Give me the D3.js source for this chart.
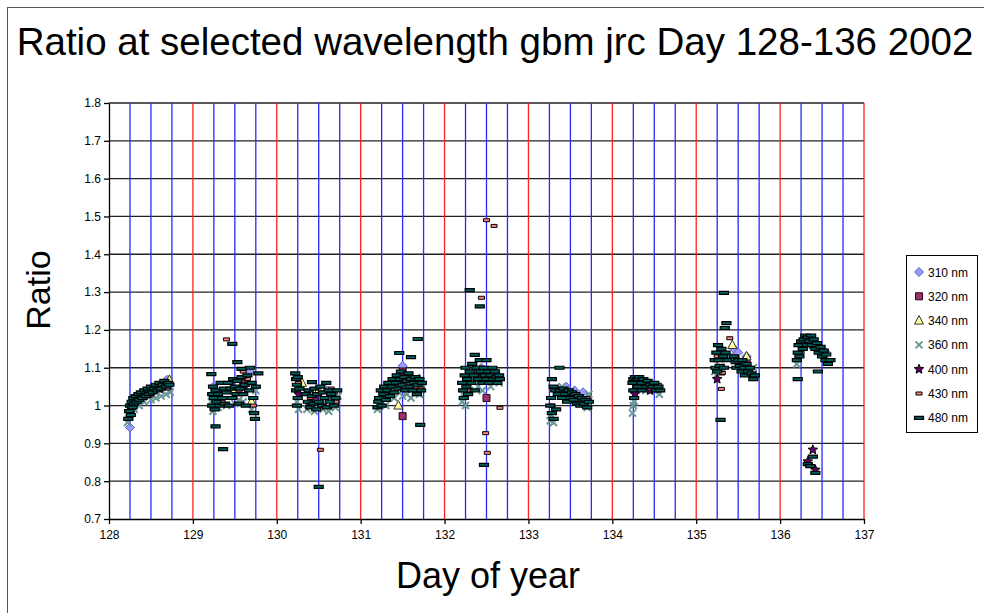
<!DOCTYPE html>
<html lang="en">
<head>
<meta charset="utf-8">
<script src="https://d3js.org/d3.v7.min.js"></script>
<style type="text/css">
body { margin: 0; background: #fff; font-family: "Liberation Sans", Arial, sans-serif; }
</style>
</head>
<body>
<script type="text/javascript">

// ---- data ----
var title = "Ratio at selected wavelength gbm jrc Day 128-136 2002";
var xTicks = [128, 129, 130, 131, 132, 133, 134, 135, 136, 137];
var yTicks = [0.7, 0.8, 0.9, 1.0, 1.1, 1.2, 1.3, 1.4, 1.5, 1.6, 1.7, 1.8];
var yTickLabels = ["0.7", "0.8", "0.9", "1", "1.1", "1.2", "1.3", "1.4", "1.5", "1.6", "1.7", "1.8"];
var seriesNames = ["310 nm", "320 nm", "340 nm", "360 nm", "400 nm", "430 nm", "480 nm"];

var s310 = [[128.25,0.942],[128.3,1.0],[128.69,1.068],[129.24,1.049],[129.68,1.09],[130.25,1.07],[130.6,1.04],
  [131.5,1.105],[131.7,1.06],[132.44,1.1],[132.6,1.08],[133.45,1.05],[133.55,1.04],[133.65,1.035],[134.5,1.055],
  [135.45,1.15],[135.5,1.14],[135.6,1.13],[136.5,1.15],[136.55,1.14]];
var s320 = [[128.26,0.99],[128.5,1.03],[129.3,1.03],[129.6,1.06],[130.45,1.02],[130.68,1.03],[131.5,0.972],[131.5,1.09],
  [132.5,1.02],[132.45,1.09],[133.35,1.04],[134.4,1.05],[135.3,1.09],[135.6,1.12],[136.35,1.17]];
var s340 = [[128.4,1.03],[128.72,1.068],[129.5,1.04],[129.7,1.01],[130.3,1.06],[130.5,1.04],[131.45,1.0],[131.7,1.07],
  [132.3,1.07],[132.55,1.09],[133.7,1.017],[134.3,1.06],[135.43,1.16],[135.55,1.11],[135.6,1.13],[136.4,1.16]];
var s360 = [[128.22,0.955],[128.25,0.975],[128.3,0.99],[128.36,1.0],[128.42,1.01],[128.5,1.015],[128.56,1.02],[128.62,1.025],
  [128.68,1.03],[128.73,1.035],[129.22,1.01],[129.24,0.985],[129.3,0.995],[129.4,1.0],[129.5,1.005],[129.55,1.015],
  [129.6,1.01],[129.7,0.99],[129.75,1.04],[130.24,1.01],[130.26,0.99],[130.36,0.99],[130.45,0.985],[130.55,0.99],
  [130.62,0.985],[130.7,0.995],[130.73,1.025],[131.2,0.99],[131.22,1.0],[131.3,1.0],[131.4,1.02],[131.5,1.025],
  [131.55,1.03],[131.6,1.02],[131.7,1.03],[131.73,1.045],[132.21,1.01],[132.22,1.03],[132.25,1.0],[132.3,1.04],
  [132.4,1.05],[132.45,1.04],[132.55,1.05],[132.65,1.06],[133.26,0.96],[133.27,0.975],[133.3,0.955],[133.4,1.05],
  [133.5,1.03],[133.6,1.005],[133.7,0.995],[133.72,1.03],[134.24,0.98],[134.25,1.0],[134.26,1.01],[134.4,1.04],
  [134.5,1.04],[134.56,1.03],[135.22,1.09],[135.24,1.08],[135.3,1.1],[135.4,1.13],[135.5,1.11],[135.55,1.1],
  [135.6,1.09],[135.68,1.1],[136.2,1.11],[136.22,1.12],[136.5,1.15],[136.55,1.13]];
var s400 = [[128.28,1.0],[128.6,1.045],[129.3,1.02],[129.62,1.05],[130.26,1.03],[130.4,1.0],[131.3,1.03],[131.55,1.07],
  [132.4,1.08],[132.6,1.07],[133.4,1.03],[133.6,1.02],[134.27,1.03],[134.45,1.04],[135.25,1.07],[135.5,1.12],
  [136.3,1.17],[136.33,0.852],[136.39,0.883],[136.42,0.83]];
var s430 = [[128.24,0.97],[128.3,1.0],[128.38,1.02],[128.5,1.03],[128.62,1.05],[128.7,1.045],
  [129.25,1.03],[129.35,1.01],[129.4,1.175],[129.45,1.06],[129.55,1.04],[129.6,1.09],[129.65,1.07],[129.72,1.0],
  [130.26,1.06],[130.4,1.02],[130.52,0.883],[130.55,1.0],[130.65,1.045],[130.7,1.01],
  [131.3,1.03],[131.4,1.05],[131.45,1.06],[131.55,1.08],[131.65,1.05],[131.72,1.045],
  [132.25,1.07],[132.3,1.04],[132.35,1.09],[132.44,1.285],[132.45,1.1],[132.49,0.927],[132.5,1.49],[132.51,0.875],
  [132.55,1.06],[132.59,1.475],[132.62,1.09],[132.66,0.994],
  [133.28,1.0],[133.35,1.04],[133.5,1.03],[133.6,1.01],[133.7,1.02],
  [134.28,1.05],[134.32,1.06],[134.45,1.045],[134.55,1.055],
  [135.25,1.13],[135.3,1.044],[135.31,1.086],[135.4,1.178],[135.5,1.12],[135.6,1.1],
  [136.25,1.14],[136.3,1.16],[136.45,1.15],[136.55,1.12]];
var s480 = [[128.23,0.965],[128.24,0.985],[128.25,1.0],[128.26,0.975],[128.27,1.01],[128.28,0.995],[128.29,1.02],[128.3,1.005],
  [128.32,1.025],[128.33,1.01],[128.35,1.03],[128.36,1.015],[128.38,1.035],[128.4,1.02],[128.42,1.04],[128.44,1.025],
  [128.46,1.045],[128.48,1.03],[128.5,1.05],[128.52,1.035],[128.54,1.045],[128.56,1.055],[128.58,1.04],[128.6,1.06],
  [128.62,1.045],[128.64,1.055],[128.66,1.065],[128.68,1.05],[128.7,1.06],[128.72,1.055],
  [129.22,1.083],[129.23,1.03],[129.23,1.0],[129.24,1.05],[129.25,1.02],[129.26,0.99],[129.27,1.04],[129.28,1.01],
  [129.3,1.03],[129.32,1.0],[129.33,1.06],[129.35,1.02],[129.37,1.045],[129.38,1.005],[129.4,1.035],[129.42,1.06],
  [129.43,1.0],[129.45,1.045],[129.47,1.02],[129.48,1.07],[129.5,1.05],[129.52,1.03],[129.53,1.065],[129.55,1.005],
  [129.56,1.045],[129.58,1.075],[129.6,1.03],[129.62,1.055],[129.63,1.0],[129.65,1.08],[129.67,1.04],[129.68,1.1],
  [129.7,1.06],[129.72,1.02],[129.73,0.98],[129.74,0.965],[129.75,1.05],[129.78,1.085],
  [129.27,0.945],[129.36,0.885],[129.47,1.163],[129.53,1.115],[129.58,1.097],
  [130.22,1.085],[130.23,1.07],[130.24,1.055],[130.23,1.04],[130.25,1.075],[130.25,1.02],[130.24,1.0],[130.27,1.045],
  [130.35,1.03],[130.37,1.01],[130.38,1.04],[130.4,0.995],[130.42,1.025],[130.42,1.062],[130.44,1.005],[130.45,1.045],
  [130.47,0.99],[130.48,1.03],[130.5,1.01],[130.52,1.05],[130.54,1.0],[130.55,1.035],[130.57,1.02],[130.59,1.06],
  [130.6,0.995],[130.62,1.04],[130.63,1.01],[130.65,1.03],[130.68,1.0],[130.7,1.02],[130.72,1.04],[130.5,0.785],
  [131.2,0.995],[131.21,1.01],[131.22,1.02],[131.24,1.04],[131.25,1.0],[131.27,1.03],[131.28,1.05],[131.3,1.015],
  [131.32,1.04],[131.33,1.06],[131.35,1.025],[131.37,1.05],[131.38,1.07],[131.4,1.035],[131.42,1.06],[131.43,1.08],
  [131.45,1.045],[131.47,1.07],[131.48,1.09],[131.5,1.055],[131.52,1.075],[131.53,1.04],[131.55,1.065],[131.57,1.085],
  [131.58,1.05],[131.6,1.07],[131.62,1.04],[131.63,1.06],[131.65,1.075],[131.67,1.03],[131.68,1.055],[131.7,1.07],
  [131.72,1.04],[131.73,1.06],[131.46,1.139],[131.6,1.128],[131.68,1.176],[131.71,0.949],
  [132.21,1.06],[132.22,1.04],[132.23,1.02],[132.24,1.08],[132.25,1.1],[132.26,1.05],[132.27,1.07],[132.28,1.03],
  [132.3,1.09],[132.32,1.06],[132.33,1.11],[132.35,1.08],[132.36,1.04],[132.38,1.1],[132.4,1.07],[132.42,1.12],
  [132.43,1.09],[132.45,1.06],[132.47,1.1],[132.48,1.08],[132.5,1.07],[132.52,1.09],[132.53,1.06],[132.55,1.08],
  [132.57,1.1],[132.58,1.07],[132.6,1.09],[132.62,1.075],[132.63,1.06],[132.65,1.08],[132.66,1.07],
  [132.36,1.134],[132.5,1.12],[132.3,1.305],[132.42,1.262],[132.47,0.843],
  [133.28,1.07],[133.3,1.05],[133.32,1.04],[133.27,1.02],[133.26,1.0],[133.28,0.98],[133.3,0.965],[133.33,0.99],
  [133.35,1.03],[133.38,1.04],[133.4,1.02],[133.42,1.045],[133.44,1.03],[133.46,1.01],[133.48,1.04],[133.5,1.02],
  [133.52,1.035],[133.54,1.015],[133.56,1.03],[133.58,1.005],[133.6,1.025],[133.62,1.0],[133.64,1.02],[133.66,1.005],
  [133.68,1.015],[133.7,0.995],[133.72,1.01],[133.37,1.1],
  [134.24,1.06],[134.25,1.07],[134.27,1.075],[134.3,1.07],[134.32,1.075],[134.35,1.06],[134.37,1.07],[134.4,1.05],
  [134.42,1.065],[134.45,1.055],[134.48,1.05],[134.5,1.06],[134.52,1.04],[134.55,1.05],[134.57,1.04],[134.25,1.04],
  [134.26,1.02],[134.3,1.05],[134.35,1.04],
  [135.22,1.12],[135.23,1.1],[135.24,1.14],[135.25,1.09],[135.26,1.16],[135.27,1.12],[135.28,1.105],[135.3,1.15],
  [135.32,1.13],[135.33,1.1],[135.35,1.14],[135.37,1.12],[135.45,1.13],[135.47,1.115],[135.48,1.1],[135.5,1.12],
  [135.52,1.105],[135.54,1.09],[135.55,1.12],[135.57,1.1],[135.58,1.08],[135.6,1.11],[135.62,1.09],[135.64,1.1],
  [135.66,1.085],[135.68,1.07],[135.7,1.08],[135.29,0.962],[135.33,1.298],[135.36,1.218],[135.34,1.205],
  [136.2,1.12],[136.21,1.14],[136.22,1.16],[136.23,1.13],[136.25,1.17],[136.27,1.15],[136.28,1.175],[136.3,1.185],
  [136.32,1.16],[136.33,1.18],[136.35,1.17],[136.37,1.185],[136.38,1.16],[136.4,1.175],[136.42,1.15],[136.44,1.165],
  [136.46,1.14],[136.48,1.155],[136.5,1.13],[136.52,1.145],[136.54,1.12],[136.55,1.135],[136.57,1.11],[136.6,1.12],
  [136.21,1.07],[136.45,1.09],[136.39,0.865],[136.33,0.845],[136.36,0.84],[136.42,0.822]];

var seriesData = [s310, s320, s340, s360, s400, s430, s480];

// ---- layout ----
var width = 984, height = 613;
var svg = d3.select("body").append("svg")
  .attr("width", width).attr("height", height)
  .style("font-family", "'Liberation Sans', Arial, sans-serif");

var x = d3.scaleLinear().domain([128, 137]).range([109, 864]);
var y = d3.scaleLinear().domain([0.7, 1.8]).range([519, 103]);

// chart area border
svg.append("rect")
  .attr("x", 7.5).attr("y", 7.5).attr("width", 1000).attr("height", 700)
  .attr("fill", "none").attr("stroke", "#555").attr("stroke-width", 1);

// horizontal grid
svg.append("g").selectAll("line").data(yTicks.slice(1)).enter().append("line")
  .attr("x1", x(128)).attr("x2", x(137))
  .attr("y1", function(d) { return y(d); }).attr("y2", function(d) { return y(d); })
  .attr("stroke", "#222").attr("stroke-width", 1.3);

// vertical grid, each quarter day, red on whole days
var vgrid = [];
xTicks.slice(0, -1).forEach(function(t) { vgrid.push(t + 0.25, t + 0.5, t + 0.75, t + 1); });
svg.append("g").selectAll("line").data(vgrid).enter().append("line")
  .attr("x1", function(d) { return x(d); }).attr("x2", function(d) { return x(d); })
  .attr("y1", y(1.8)).attr("y2", y(0.7))
  .attr("stroke", function(d) { return d % 1 === 0 ? "#ff2020" : "#2828ff"; })
  .attr("stroke-width", 1.3);

// ---- markers ----
function star(r) {
  var p = [];
  for (var i = 0; i < 10; i++) {
    var a = -Math.PI / 2 + i * Math.PI / 5, rr = i % 2 ? r * 0.45 : r;
    p.push([rr * Math.cos(a), rr * Math.sin(a)]);
  }
  return "M" + p.join("L") + "Z";
}
var markers = [
  { d: "M0,-4.5L4.5,0L0,4.5L-4.5,0Z", fill: "#9999ff", stroke: "#6060c8", sw: 1 },
  { d: "M-3.5,-3.5H3.5V3.5H-3.5Z", fill: "#993366", stroke: "#2a0018", sw: 1 },
  { d: "M0,-5L4.5,3.5H-4.5Z", fill: "#ffff99", stroke: "#333", sw: 1 },
  { d: "M-3.5,-3.5L3.5,3.5M-3.5,3.5L3.5,-3.5", fill: "none", stroke: "#6a9797", sw: 2 },
  { d: star(5), fill: "#660066", stroke: "#000", sw: 1 },
  { d: "M-3,-1.5H3V1.5H-3Z", fill: "#ff8080", stroke: "#000", sw: 1 },
  { d: "M-4.5,-1.5H4.5V1.5H-4.5Z", fill: "#005f5f", stroke: "#000", sw: 1.2 }
];

seriesData.forEach(function(data, i) {
  var m = markers[i];
  svg.append("g").selectAll("path").data(data).enter().append("path")
    .attr("transform", function(d) { return "translate(" + x(d[0]) + "," + y(d[1]) + ")"; })
    .attr("d", m.d).attr("fill", m.fill).attr("stroke", m.stroke).attr("stroke-width", m.sw);
});

// ---- axes ----
var xAxis = svg.append("g").attr("transform", "translate(0," + y(0.7) + ")")
  .call(d3.axisBottom(x).tickValues(xTicks).tickFormat(d3.format("d")).tickSize(5).tickSizeOuter(0).tickPadding(6));
var yAxis = svg.append("g").attr("transform", "translate(" + x(128) + ",0)")
  .call(d3.axisLeft(y).tickValues(yTicks).tickFormat(function(d, i) { return yTickLabels[i]; })
    .tickSize(5).tickSizeOuter(0).tickPadding(3));
[xAxis, yAxis].forEach(function(a) {
  a.selectAll("text").style("font-size", "12px").style("font-family", "'Liberation Sans', Arial, sans-serif").attr("fill", "#000");
  a.selectAll("line, path").attr("stroke", "#000").attr("stroke-width", 1.3);
});

// ---- titles ----
svg.append("text").attr("x", 495).attr("y", 55).attr("text-anchor", "middle")
  .style("font-size", "38.5px").text(title);
svg.append("text").attr("x", 488).attr("y", 588).attr("text-anchor", "middle")
  .style("font-size", "36px").text("Day of year");
svg.append("text").attr("transform", "translate(50,290) rotate(-90)").attr("text-anchor", "middle")
  .style("font-size", "34px").text("Ratio");

// ---- legend ----
var legend = svg.append("g").attr("transform", "translate(906,255)");
legend.append("rect").attr("x", 0.5).attr("y", 0.5).attr("width", 71).attr("height", 177)
  .attr("fill", "#fff").attr("stroke", "#000");
var item = legend.selectAll("g.item").data(seriesNames).enter().append("g")
  .attr("transform", function(d, i) { return "translate(0," + (17 + i * 24.3) + ")"; });
item.append("path")
  .attr("transform", "translate(13,0)")
  .attr("d", function(d, i) { return markers[i].d; })
  .attr("fill", function(d, i) { return markers[i].fill; })
  .attr("stroke", function(d, i) { return markers[i].stroke; })
  .attr("stroke-width", function(d, i) { return markers[i].sw; });
item.append("text").attr("x", 22).attr("y", 4.5).style("font-size", "12px").text(function(d) { return d; });

</script>
</body>
</html>
